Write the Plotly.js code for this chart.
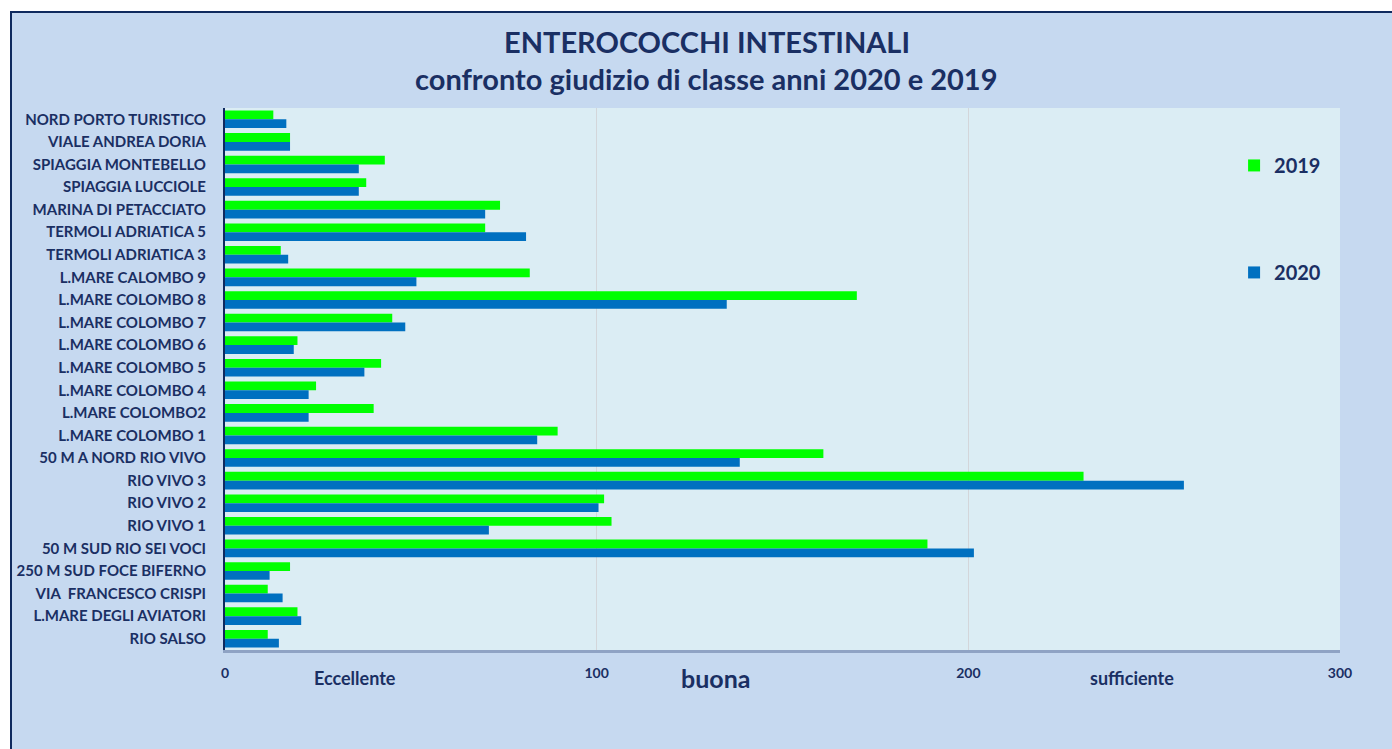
<!DOCTYPE html>
<html>
<head>
<meta charset="utf-8">
<script src="https://cdn.plot.ly/plotly-3.0.1.min.js"></script>
<style>
  html, body { margin: 0; padding: 0; background: #ffffff; overflow: hidden; }
  #frame { position: absolute; left: 10px; top: 11px; width: 1382px; height: 738px;
           border-left: 2px solid #0f2a5e; border-top: 2px solid #0f2a5e; background: #c6d9f0; }
  #chart { width: 1380px; height: 736px; }
</style>
</head>
<body>
<div id="frame"><div id="chart"></div></div>
<script>
const stations = [
  "NORD PORTO TURISTICO",
  "VIALE ANDREA DORIA",
  "SPIAGGIA MONTEBELLO",
  "SPIAGGIA LUCCIOLE",
  "MARINA DI PETACCIATO",
  "TERMOLI ADRIATICA 5",
  "TERMOLI ADRIATICA 3",
  "L.MARE CALOMBO 9",
  "L.MARE COLOMBO 8",
  "L.MARE COLOMBO 7",
  "L.MARE COLOMBO 6",
  "L.MARE COLOMBO 5",
  "L.MARE COLOMBO 4",
  "L.MARE COLOMBO2",
  "L.MARE COLOMBO 1",
  "50 M A NORD RIO VIVO",
  "RIO VIVO 3",
  "RIO VIVO 2",
  "RIO VIVO 1",
  "50 M SUD RIO SEI VOCI",
  "250 M SUD FOCE BIFERNO",
  "VIA  FRANCESCO CRISPI",
  "L.MARE DEGLI AVIATORI",
  "RIO SALSO"
];
const values2019 = [13, 17.5, 43, 38, 74, 70, 15, 82, 170, 45, 19.5, 42, 24.5, 40, 89.5, 161, 231, 102, 104, 189, 17.5, 11.5, 19.5, 11.5];
const values2020 = [16.5, 17.5, 36, 36, 70, 81, 17, 51.5, 135, 48.5, 18.5, 37.5, 22.5, 22.5, 84, 138.5, 258, 100.5, 71, 201.5, 12, 15.5, 20.5, 14.5];
const xTicks = [0, 100, 200, 300];
const classLabels = ["Eccellente", "buona", "sufficiente"];
const classPositions = [35, 132, 244];
const titleLines = ["ENTEROCOCCHI INTESTINALI", "confronto giudizio di classe anni 2020 e 2019"];

const navy = "#1a2f63";
const traces = [
  { type: "bar", orientation: "h", name: "2019", y: stations, x: values2019,
    marker: { color: "#00ff00" }, legendgroup: "a" },
  { type: "bar", orientation: "h", name: "2020", y: stations, x: values2020,
    marker: { color: "#0070c0" }, legendgroup: "b" }
];

const annotations = classLabels.map((t, i) => ({
  text: t, x: classPositions[i], xref: "x", y: -0.052, yref: "paper",
  xanchor: "center", yanchor: "middle", showarrow: false,
  font: { family: "Lato, sans-serif", size: i === 1 ? 25 : 18, color: navy, weight: "bold" }
}));
const titleY = [1.122, 1.055];
titleLines.forEach((t, i) => annotations.push({
  text: t, x: 0.432, xref: "paper", y: titleY[i], yref: "paper",
  xanchor: "center", yanchor: "middle", showarrow: false,
  font: { family: "Lato, sans-serif", size: 29, color: navy, weight: "bold" }
}));

const layout = {
  width: 1380, height: 736,
  paper_bgcolor: "#c6d9f0",
  plot_bgcolor: "#dbedf4",
  margin: { l: 213, r: 52, t: 95, b: 99 },
  barmode: "group", bargap: 0.22, bargroupgap: 0,
  xaxis: {
    range: [0, 300], tickvals: xTicks, ticktext: xTicks.map(String),
    showgrid: true, gridcolor: "#d3d6da", gridwidth: 1, zeroline: false,
    showline: true, linecolor: "#8fa3c4", linewidth: 3,
    ticks: "outside", ticklen: 8, tickcolor: "rgba(0,0,0,0)",
    tickfont: { family: "Lato, sans-serif", size: 14, color: navy, weight: "bold" },
    fixedrange: true
  },
  yaxis: {
    autorange: "reversed", type: "category",
    showline: true, linecolor: "#0f2a5e", linewidth: 2,
    showgrid: false, zeroline: false,
    ticks: "outside", ticklen: 14, tickcolor: "rgba(0,0,0,0)",
    tickfont: { family: "Lato, sans-serif", size: 15, color: navy, weight: "bold" },
    fixedrange: true
  },
  legend: {
    x: 0.905, xanchor: "left", y: 0.93, yanchor: "top",
    bgcolor: "rgba(0,0,0,0)", tracegroupgap: 78,
    font: { family: "Lato, sans-serif", size: 20, color: navy, weight: "bold" },
    traceorder: "grouped"
  },
  annotations: annotations,
  showlegend: true
};

Plotly.newPlot("chart", traces, layout, { displayModeBar: false, staticPlot: true });
</script>
</body>
</html>
